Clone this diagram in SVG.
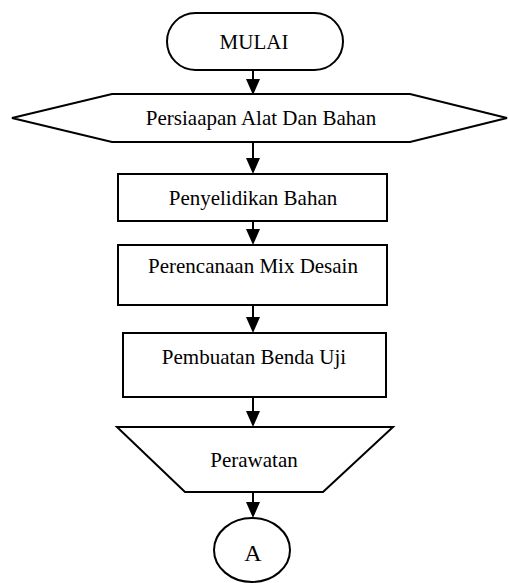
<svg xmlns="http://www.w3.org/2000/svg" width="509" height="583" viewBox="0 0 509 583">
<style>
.s{fill:#fff;stroke:#000;stroke-width:2}
.t{font-family:"Liberation Serif","Times New Roman",serif;font-size:21px;fill:#000;text-anchor:middle}
.c{stroke:#000;stroke-width:2;fill:none}
.h{fill:#000;stroke:none}
</style>
<rect width="509" height="583" fill="#fff"/>
<g id="connectors">
<line class="c" x1="253" y1="70" x2="253" y2="80"/><polygon class="h" points="246,79 260,79 253,95"/>
<line class="c" x1="253" y1="142" x2="253" y2="159"/><polygon class="h" points="246,158 260,158 253,174"/>
<line class="c" x1="253" y1="221" x2="253" y2="230"/><polygon class="h" points="246,229 260,229 253,245"/>
<line class="c" x1="253" y1="305" x2="253" y2="318"/><polygon class="h" points="246,317 260,317 253,333"/>
<line class="c" x1="253" y1="397" x2="253" y2="412"/><polygon class="h" points="246,411 260,411 253,427"/>
<line class="c" x1="253" y1="492" x2="253" y2="503"/><polygon class="h" points="246,502 260,502 253,518"/>
</g>
<g id="mulai">
<rect class="s" x="167" y="13" width="176" height="57" rx="28.5"/>
<text class="t" x="254" y="49">MULAI</text>
</g>
<g id="persiapan">
<polygon class="s" points="12,118 112,94 410,94 507,118 410,142 112,142"/>
<text class="t" x="261" y="125">Persiaapan Alat Dan Bahan</text>
</g>
<g id="penyelidikan">
<rect class="s" x="118" y="174" width="269" height="47"/>
<text class="t" x="253" y="205">Penyelidikan Bahan</text>
</g>
<g id="perencanaan">
<rect class="s" x="118" y="245" width="269" height="60"/>
<text class="t" x="253" y="273">Perencanaan Mix Desain</text>
</g>
<g id="pembuatan">
<rect class="s" x="123" y="333" width="263" height="64"/>
<text class="t" x="254" y="364">Pembuatan Benda Uji</text>
</g>
<g id="perawatan">
<polygon class="s" points="117,427 393,427 323,492 185,492"/>
<text class="t" x="254" y="467">Perawatan</text>
</g>
<g id="a">
<ellipse class="s" cx="252" cy="550" rx="38" ry="32"/>
<text class="t" x="253" y="561" style="font-size:24px">A</text>
</g>
</svg>
